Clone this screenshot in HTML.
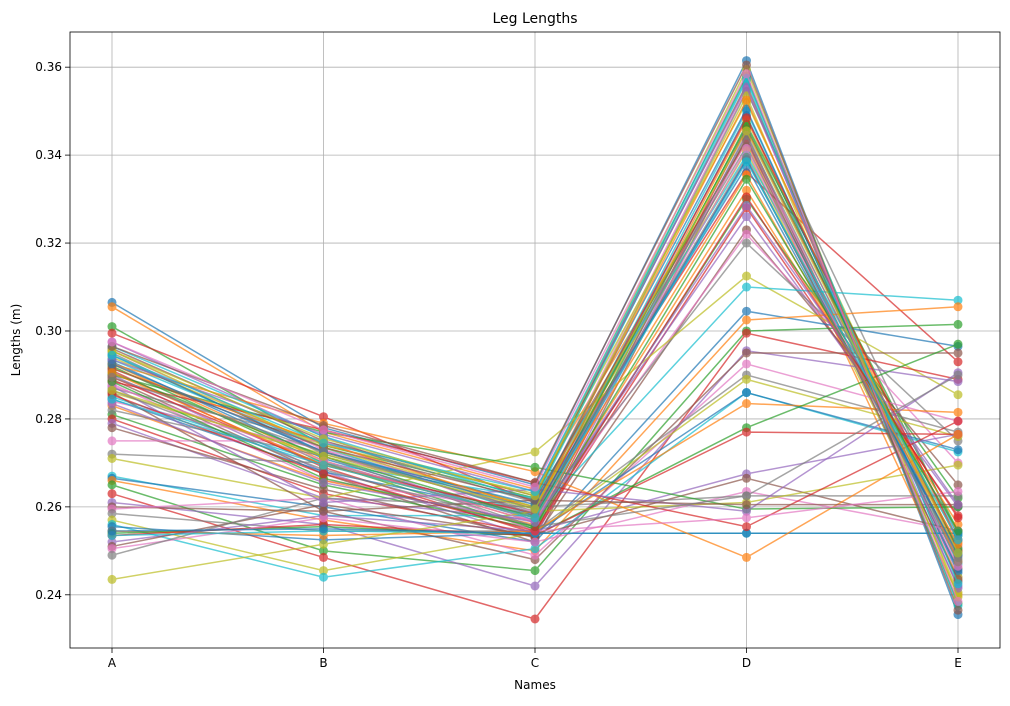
<!DOCTYPE html>
<html><head><meta charset="utf-8"><style>
body{margin:0;background:#fff;font-family:"Liberation Sans","DejaVu Sans",sans-serif}
</style></head><body>
<svg id="chart" width="1010" height="701" xmlns="http://www.w3.org/2000/svg" style="font-family:'DejaVu Sans','Liberation Sans',sans-serif"></svg>
<script>
const categories=["A","B","C","D","E"];
const yTicks=[0.24,0.26,0.28,0.30,0.32,0.34,0.36];
const s1=[.3065,.278,.265,.3615,.2355];
const s2=[.3055,.277,.264,.343,.240];
const s3=[.301,.274,.262,.358,.238];
const s4=[.2995,.2805,.261,.336,.293];
const s5=[.2975,.276,.258,.339,.249];
const s6=[.296,.275,.2625,.356,.243];
const s7=[.2955,.273,.26,.355,.244];
const s8=[.295,.272,.259,.3545,.2535];
const s9=[.294,.274,.263,.352,.250];
const s10=[.2935,.2735,.258,.350,.247];
const s11=[.293,.271,.257,.349,.245];
const s12=[.2925,.2705,.2565,.348,.252];
const s13=[.292,.270,.255,.347,.2545];
const s14=[.291,.269,.254,.346,.250];
const s15=[.290,.268,.253,.345,.242];
const s16=[.289,.2675,.252,.344,.246];
const s17=[.288,.266,.259,.343,.251];
const s18=[.287,.275,.261,.342,.248];
const s19=[.286,.272,.260,.341,.244];
const s20=[.285,.270,.262,.340,.2535];
const s21=[.2845,.268,.258,.339,.249];
const s22=[.283,.266,.256,.332,.256];
const s23=[.281,.265,.255,.330,.262];
const s24=[.280,.263,.254,.328,.258];
const s25=[.279,.262,.257,.326,.260];
const s26=[.278,.264,.253,.323,.265];
const s27=[.275,.275,.2565,.322,.270];
const s28=[.272,.270,.258,.320,.275];
const s29=[.271,.262,.2725,.3125,.2855];
const s30=[.267,.258,.258,.310,.307];
const s31=[.2665,.260,.252,.3045,.2965];
const s32=[.266,.257,.250,.3025,.3055];
const s33=[.265,.250,.2455,.300,.3015];
const s34=[.263,.2485,.2345,.2995,.289];
const s35=[.261,.256,.242,.2955,.2885];
const s36=[.260,.259,.248,.295,.295];
const s37=[.2595,.262,.249,.2925,.2795];
const s38=[.2585,.2545,.2545,.290,.277];
const s39=[.257,.2455,.254,.289,.276];
const s40=[.256,.244,.2505,.286,.2725];
const s41=[.2555,.2525,.254,.286,.273];
const s42=[.2545,.2535,.2545,.2835,.2815];
const s43=[.254,.2555,.2535,.278,.297];
const s44=[.2535,.256,.2535,.277,.2765];
const s45=[.252,.258,.2545,.2675,.2765];
const s46=[.251,.2605,.2535,.2665,.2545];
const s47=[.2505,.2575,.252,.2635,.2545];
const s48=[.249,.262,.260,.2625,.2625];
const s49=[.2435,.2515,.259,.261,.2695];
const s50=[.2535,.2545,.254,.254,.254];
const s51=[.2545,.255,.254,.254,.254];
const s52=[.2925,.279,.268,.2485,.2765];
const s53=[.290,.277,.269,.2595,.260];
const s54=[.2885,.2775,.2655,.2555,.2795];
const s55=[.2875,.261,.264,.259,.2905];
const s56=[.286,.259,.2615,.2605,.2605];
const s57=[.284,.273,.2545,.2575,.2635];
const s58=[.282,.2715,.2555,.2625,.290];
const s59=[.2955,.2735,.260,.3535,.2405];
const s60=[.2965,.276,.2615,.357,.2375];
const s61=[.2945,.2725,.2605,.3505,.2455];
const s62=[.2915,.2745,.2595,.3525,.2475];
const s63=[.2905,.2715,.2575,.3465,.2505];
const s64=[.2895,.2695,.2585,.3485,.2525];
const s65=[.2935,.2765,.2635,.3555,.2415];
const s66=[.2915,.2735,.2615,.3435,.2435];
const s67=[.2875,.2705,.2565,.3415,.2465];
const s68=[.2865,.2685,.2555,.3445,.2485];
const s69=[.2955,.2755,.2625,.3595,.2395];
const s70=[.2945,.2745,.2635,.3575,.2425];
const s71=[.2925,.2725,.2595,.3375,.2495];
const s72=[.2905,.2695,.2575,.3355,.2515];
const s73=[.2885,.2665,.2555,.3345,.2545];
const s74=[.2855,.2675,.2545,.3305,.2575];
const s75=[.2835,.2655,.2565,.3285,.2605];
const s76=[.2965,.2785,.2655,.3605,.2365];
const s77=[.2975,.2775,.2645,.3585,.2385];
const s78=[.2895,.2725,.2585,.3395,.2475];
const s79=[.2865,.2715,.2595,.3455,.2495];
const s80=[.2845,.2695,.2575,.3385,.2525];
const series=[s1,s2,s3,s4,s5,s6,s7,s8,s9,s10,s11,s12,s13,s14,s15,s16,s17,s18,s19,s20,s21,s22,s23,s24,s25,s26,s27,s28,s29,s30,s31,s32,s33,s34,s35,s36,s37,s38,s39,s40,s41,s42,s43,s44,s45,s46,s47,s48,s49,s50,s51,s52,s53,s54,s55,s56,s57,s58,s59,s60,s61,s62,s63,s64,s65,s66,s67,s68,s69,s70,s71,s72,s73,s74,s75,s76,s77,s78,s79,s80];

const colors=["#1f77b4","#ff7f0e","#2ca02c","#d62728","#9467bd","#8c564b","#e377c2","#7f7f7f","#bcbd22","#17becf"];
const L=70,R=1000,T=32,B=648;
const yMin=0.2279,yMax=0.3680;
const xs=i=>112+i*211.5;
const ys=v=>B-(v-yMin)/(yMax-yMin)*(B-T);
const svg=document.getElementById('chart');
const NS="http://www.w3.org/2000/svg";
function mk(tag,attrs,parent){const e=document.createElementNS(NS,tag);for(const k in attrs)e.setAttribute(k,attrs[k]);(parent||svg).appendChild(e);return e;}

const grid=mk('g',{});


categories.forEach((c,i)=>{
  const x=xs(i);
  mk('line',{x1:x,x2:x,y1:T,y2:B,stroke:'#b0b0b0','stroke-width':0.8},grid);
  mk('line',{x1:x,x2:x,y1:B,y2:B+5,stroke:'#000','stroke-width':0.8});
  const t=mk('text',{x:x,y:B+19,'text-anchor':'middle','font-size':12});
  t.textContent=c;
  
  
});
yTicks.forEach(v=>{
  const y=ys(v);
  mk('line',{x1:L,x2:R,y1:y,y2:y,stroke:'#b0b0b0','stroke-width':0.8},grid);
  mk('line',{x1:L-5,x2:L,y1:y,y2:y,stroke:'#000','stroke-width':0.8});
  const t=mk('text',{x:L-8,y:y+4,'text-anchor':'end','font-size':12});
  t.textContent=v.toFixed(2);
  
  
});

series.forEach((s,k)=>{
  const g=mk('g',{opacity:0.7});
  
  
  const col=colors[k%10];
  mk('polyline',{points:s.map((v,i)=>xs(i)+','+ys(v)).join(' '),fill:'none',stroke:col,'stroke-width':1.5},g);
  s.forEach((v,i)=>{
    const c=mk('circle',{cx:xs(i),cy:ys(v),r:4.5,fill:col},g);
    
    
  });
});

const frame=mk('rect',{x:L,y:T,width:R-L,height:B-T,fill:'none',stroke:'#000','stroke-width':0.8});


const title=mk('text',{x:(L+R)/2,y:23,'text-anchor':'middle','font-size':14});
title.textContent='Leg Lengths';


const xl=mk('text',{x:(L+R)/2,y:689,'text-anchor':'middle','font-size':12});
xl.textContent='Names';


const yl=mk('text',{x:0,y:0,'text-anchor':'middle','font-size':12,transform:'translate(20,'+((T+B)/2)+') rotate(-90)'});
yl.textContent='Lengths (m)';


</script>
</body></html>
